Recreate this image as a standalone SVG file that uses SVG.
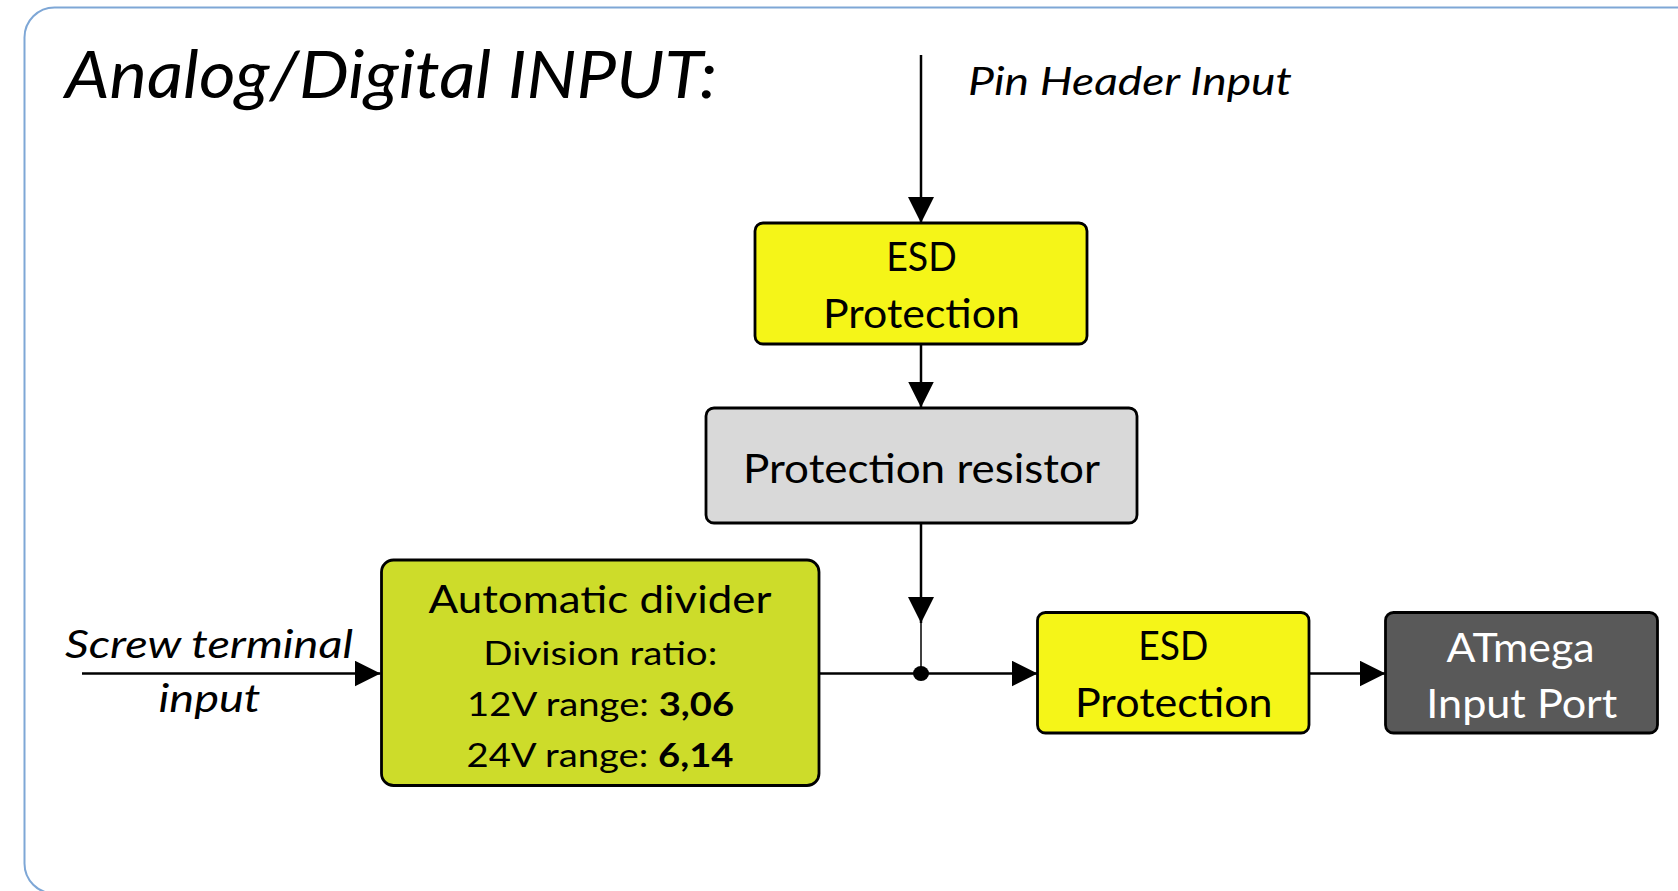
<svg xmlns="http://www.w3.org/2000/svg" width="1678" height="891" viewBox="0 0 1678 891">
  <defs>
    <style>
      .box { stroke: #000; stroke-width: 2.8; }
      .esd { fill: #f5f518; }
      .res { fill: #d9d9d9; }
      .div { fill: #cddc2a; }
      .atm { fill: #595959; }
      .t { font-family: Lato, "Open Sans", "Liberation Sans", sans-serif; fill: #000; }
      .c { text-anchor: middle; }
      .w { fill: #fff; }
      .i { font-style: italic; }
      .b { font-weight: bold; }
      .ln { stroke: #000; stroke-width: 2.5; fill: none; }
      .thin { stroke: #000; stroke-width: 1.5; fill: none; }
    </style>
    <marker id="arr" viewBox="0 0 26 26" refX="26" refY="13" markerWidth="26" markerHeight="26" markerUnits="userSpaceOnUse" orient="auto">
      <path d="M0,0 L26,13 L0,26 Z" fill="#000"/>
    </marker>
  </defs>
  <rect width="1678" height="891" fill="#fff"/>
  <g id="frame">
    <rect x="24.5" y="7.5" width="1700" height="886" rx="30" ry="30" fill="none" stroke="#7ea7d6" stroke-width="2"/>
  </g>
  <g id="title">
    <text class="t i" x="65" y="98" font-size="66" textLength="652" lengthAdjust="spacingAndGlyphs">Analog/Digital INPUT:</text>
  </g>
  <g id="connectors">
    <line class="ln" x1="921" y1="55" x2="921" y2="223" marker-end="url(#arr)"/>
    <line class="ln" x1="921" y1="344" x2="921" y2="407.5" marker-end="url(#arr)"/>
    <line class="ln" x1="921" y1="523" x2="921" y2="623" marker-end="url(#arr)"/>
    <line class="thin" x1="921" y1="620" x2="921" y2="673"/>
    <line class="ln" x1="82" y1="673.5" x2="380.5" y2="673.5" marker-end="url(#arr)"/>
    <line class="ln" x1="819" y1="673.5" x2="1037.5" y2="673.5" marker-end="url(#arr)"/>
    <line class="ln" x1="1309" y1="673.5" x2="1385.5" y2="673.5" marker-end="url(#arr)"/>
    <ellipse cx="921" cy="673.5" rx="8" ry="7.5" fill="#000"/>
  </g>
  <g id="pin-header-label">
    <text class="t i" x="968" y="95" font-size="38.5" textLength="324" lengthAdjust="spacingAndGlyphs">Pin Header Input</text>
  </g>
  <g id="screw-terminal-label">
    <text class="t i" x="65" y="658" font-size="39" textLength="288" lengthAdjust="spacingAndGlyphs">Screw terminal</text>
    <text class="t i" x="158.5" y="712" font-size="39" textLength="102" lengthAdjust="spacingAndGlyphs">input</text>
  </g>
  <g id="esd-top">
    <rect class="box esd" x="755" y="223" width="332" height="121" rx="8" ry="8"/>
    <text class="t c" x="921.5" y="271" font-size="40" textLength="70.6" lengthAdjust="spacingAndGlyphs">ESD</text>
    <text class="t c" x="921.5" y="328" font-size="40" textLength="197" lengthAdjust="spacingAndGlyphs">Protection</text>
  </g>
  <g id="protection-resistor">
    <rect class="box res" x="706" y="408" width="431" height="115" rx="8" ry="8"/>
    <text class="t c" x="921.5" y="483" font-size="41" textLength="357" lengthAdjust="spacingAndGlyphs">Protection resistor</text>
  </g>
  <g id="automatic-divider">
    <rect class="box div" x="381.5" y="560" width="437.5" height="225.5" rx="12" ry="12"/>
    <text class="t c" x="600" y="613" font-size="39.5" textLength="343" lengthAdjust="spacingAndGlyphs">Automatic divider</text>
    <text class="t c" x="600.3" y="665" font-size="32" textLength="234" lengthAdjust="spacingAndGlyphs">Division ratio:</text>
    <text class="t c" x="600.6" y="716" font-size="32" textLength="267" lengthAdjust="spacingAndGlyphs">12V range: <tspan class="b">3,06</tspan></text>
    <text class="t c" x="600" y="766.7" font-size="32" textLength="267" lengthAdjust="spacingAndGlyphs">24V range: <tspan class="b">6,14</tspan></text>
  </g>
  <g id="esd-bottom">
    <rect class="box esd" x="1037.5" y="612.5" width="271.5" height="120.5" rx="8" ry="8"/>
    <text class="t c" x="1173.3" y="659.5" font-size="40" textLength="70" lengthAdjust="spacingAndGlyphs">ESD</text>
    <text class="t c" x="1173.8" y="716.7" font-size="40" textLength="197.7" lengthAdjust="spacingAndGlyphs">Protection</text>
  </g>
  <g id="atmega-input-port">
    <rect class="box atm" x="1385.5" y="612.5" width="272" height="120.5" rx="8" ry="8"/>
    <text class="t c w" x="1520.5" y="661.5" font-size="40" textLength="148" lengthAdjust="spacingAndGlyphs">ATmega</text>
    <text class="t c w" x="1521.8" y="718" font-size="40" textLength="191" lengthAdjust="spacingAndGlyphs">Input Port</text>
  </g>
</svg>
